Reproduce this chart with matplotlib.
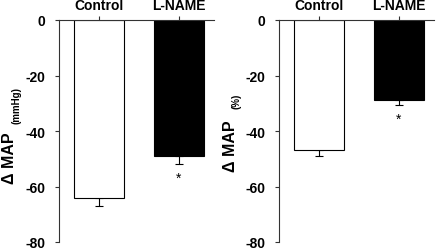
import matplotlib
matplotlib.use("Agg")
import matplotlib.pyplot as plt

plt.rcParams['font.family'] = ['Liberation Sans', 'DejaVu Sans']

categories = ["Control", "L-NAME"]
map_mmhg = [-64, -49]
map_mmhg_err = [3, 3]
map_pct = [-47, -29]
map_pct_err = [2, 1.7]
yticks = [0, -20, -40, -60, -80]
colors = ["white", "black"]

fig = plt.figure(figsize=(4.4, 2.51), dpi=100)
ax1 = fig.add_axes([59/440, 8/251, 155/440, 222/251])
ax2 = fig.add_axes([279/440, 8/251, 155/440, 222/251])

xpos = [1, 3]
panels = [(ax1, map_mmhg, map_mmhg_err), (ax2, map_pct, map_pct_err)]
for ax, vals, errs in panels:
    ax.bar(xpos, vals, width=1.25, color=colors, edgecolor="black", linewidth=0.8, zorder=2)
    ax.errorbar(xpos, vals, yerr=[errs, [0, 0]], fmt="none", ecolor="black",
                elinewidth=0.8, capsize=3, capthick=0.8, zorder=1)
    ax.set_xlim(0, 155/40)
    ax.set_ylim(-80, 0)
    ax.set_yticks(yticks)
    ax.set_yticklabels([str(t) for t in yticks], fontsize=10, fontweight="bold")
    ax.xaxis.tick_top()
    ax.set_xticks(xpos)
    ax.set_xticklabels(categories, fontsize=10, fontweight="bold")
    ax.tick_params(axis="x", direction="out", length=3, width=0.8, pad=3, colors="#333333", labelcolor="black")
    ax.tick_params(axis="y", direction="out", length=3, width=0.8, pad=7, colors="#333333", labelcolor="black")
    for s in ["right", "bottom"]:
        ax.spines[s].set_visible(False)
    for s in ["left", "top"]:
        ax.spines[s].set_linewidth(0.8)
        ax.spines[s].set_color("#333333")
    ax.set_facecolor("none")
    # asterisk below L-NAME error bar
    ax.text(xpos[1], vals[1] - errs[1] - 5, "*", ha="center", va="center",
            fontsize=10)

fig.text(10/440, 1 - 158.5/251, "Δ MAP", rotation=90, ha="center", va="center",
         fontsize=11.5, fontweight="bold")
fig.text(16.5/440, 1 - 106/251, "(mmHg)", rotation=90, ha="center", va="center",
         fontsize=7, fontweight="bold")
fig.text(230/440, 1 - 146.5/251, "Δ MAP", rotation=90, ha="center", va="center",
         fontsize=11.5, fontweight="bold")
fig.text(236.5/440, 1 - 101/251, "(%)", rotation=90, ha="center", va="center",
         fontsize=7, fontweight="bold")

fig.savefig("out.png", dpi=100)
